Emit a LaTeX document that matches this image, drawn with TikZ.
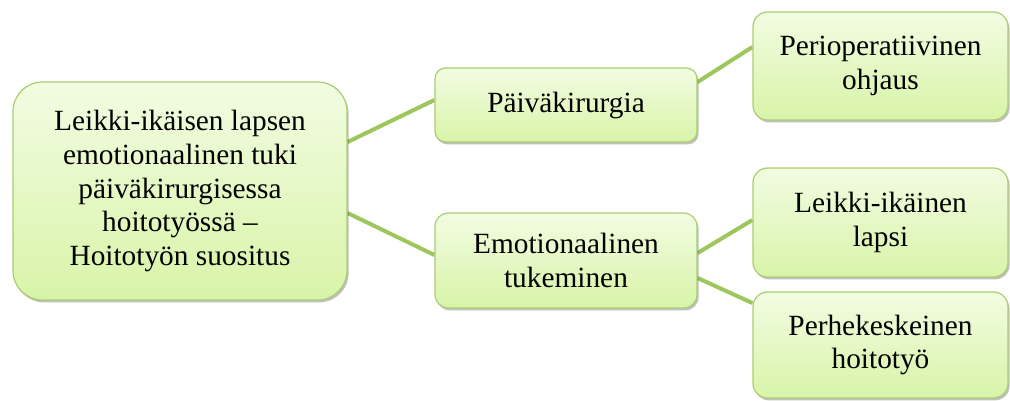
\documentclass[tikz,border=0pt]{standalone}
\usepackage{fontspec}
\setmainfont{Liberation Serif}
\usetikzlibrary{calc,shadows,backgrounds}
\definecolor{boxtop}{RGB}{242,252,226}
\definecolor{boxbottom}{RGB}{216,244,168}
\definecolor{boxline}{RGB}{170,205,112}
\definecolor{linkgreen}{RGB}{157,198,92}
\tikzset{
    topicbox/.style={draw=boxline, line width=0.9pt, top color=boxtop, bottom color=boxbottom,
        align=center, inner sep=0pt, font=\fontsize{22}{25.2}\selectfont,
        drop shadow={shadow xshift=1.2pt, shadow yshift=-1.8pt, fill=black, opacity=0.25}},
    link/.style={draw=linkgreen, line width=3pt}
}
\begin{document}
\begin{tikzpicture}[x=0.75pt,y=0.75pt,yscale=-1,xscale=1]
    \useasboundingbox (0,0) rectangle (1010,400);
    % Root
    \node [topicbox, rounded corners=22pt, minimum width=250.5pt, minimum height=163.5pt] (root) at (180,191)
        {Leikki-ikäisen lapsen\\emotionaalinen tuki\\päiväkirurgisessa\\hoitotyössä --\\Hoitotyön suositus};
    % Level 1
    \node [topicbox, rounded corners=8pt, minimum width=196.5pt, minimum height=55.5pt] (paiva) at (566,105) {Päiväkirurgia};
    \node [topicbox, rounded corners=10pt, minimum width=196.5pt, minimum height=71.25pt] (emot) at (566,260.5) {Emotionaalinen\\tukeminen};
    % Level 2
    \node [topicbox, rounded corners=11pt, minimum width=191.25pt, minimum height=81pt] (periop) at (880.5,66) {Perioperatiivinen\\ohjaus};
    \node [topicbox, rounded corners=11pt, minimum width=191.25pt, minimum height=81.75pt] (leikki) at (880.5,222.5) {Leikki-ikäinen\\lapsi};
    \node [topicbox, rounded corners=11pt, minimum width=191.25pt, minimum height=79.5pt] (perhe) at (880.5,345) {Perhekeskeinen\\hoitotyö};
    % Connectors
    \begin{scope}[on background layer]
    \draw [link] ($(root.east)+(0,-49)$) -- ($(paiva.west)+(0,-5)$);
    \draw [link] ($(root.east)+(0,22)$) -- ($(emot.west)+(0,-5.5)$);
    \draw [link] ($(paiva.east)+(0,-23)$) -- ($(periop.west)+(0,-19)$);
    \draw [link] ($(emot.east)+(0,-7.5)$) -- ($(leikki.west)+(0,-2.5)$);
    \draw [link] ($(emot.east)+(0,17.5)$) -- ($(perhe.west)+(0,-42)$);
    \end{scope}
\end{tikzpicture}
\end{document}
